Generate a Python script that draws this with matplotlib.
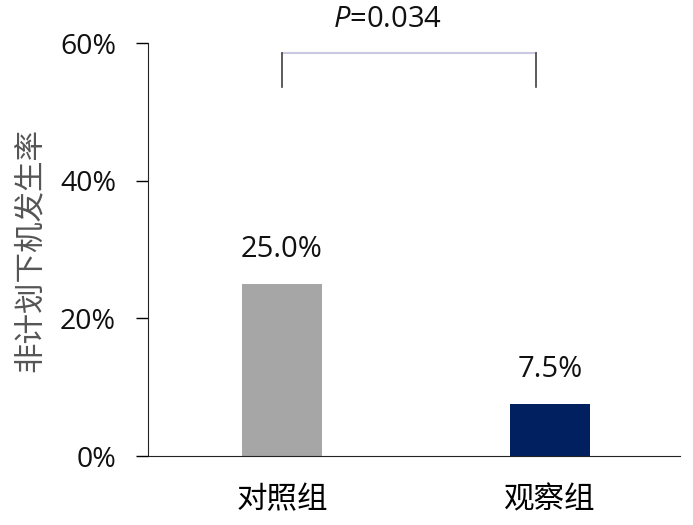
import matplotlib
matplotlib.use('Agg')
from matplotlib import pyplot as plt
from matplotlib.ticker import PercentFormatter

plt.rcParams['font.family'] = ['Open Sans', 'Noto Sans CJK SC', 'DejaVu Sans']
plt.rcParams['mathtext.fontset'] = 'custom'
plt.rcParams['mathtext.it'] = 'Open Sans:italic'
plt.rcParams['mathtext.rm'] = 'Open Sans'

groups = ['对照组', '观察组']
rates = [0.25, 0.075]
rate_labels = ['25.0%', '7.5%']
bar_colors = ['#a6a6a6', '#002060']
p_text = '=0.034'

fig = plt.figure(figsize=(6.93, 5.25), dpi=100)
ax = fig.add_axes([0.2136, 0.1314, 0.7674, 0.7866])

x = [0, 1]
ax.bar(x, rates, width=0.30, color=bar_colors)

for xi, v, lab in zip(x, rates, rate_labels):
    ax.annotate(lab, (xi, v), xytext=(0, 25), textcoords='offset points',
                ha='center', va='center', fontsize=21, color='#111111')

# significance bracket
y_top, y_bot = 0.5855, 0.536
ax.plot([0, 0.948], [y_top, y_top], color='#c8c8e0', lw=1.5, clip_on=False)
ax.plot([0, 0], [y_top, y_bot], color='#404040', lw=1.2, clip_on=False)
ax.plot([0.948, 0.948], [y_top, y_bot], color='#404040', lw=1.2, clip_on=False)
ax.text(0.395, 0.634, r'$P$' + p_text, ha='center', va='center', fontsize=21,
        color='#111111', clip_on=False)

ax.set_xlim(-0.5, 1.485)
ax.set_ylim(0, 0.6)
ax.set_yticks([0, 0.2, 0.4, 0.6])
ax.yaxis.set_major_formatter(PercentFormatter(1.0, decimals=0))
ax.set_xticks(x)
ax.set_xticklabels(groups, fontsize=22)
ax.tick_params(axis='x', length=0, pad=21)
ax.tick_params(axis='y', length=9, width=1, pad=14, labelsize=20.5, direction='out')
for lab in ax.get_yticklabels():
    lab.set_color('#111111')

ax.spines['top'].set_visible(False)
ax.spines['right'].set_visible(False)
ax.spines['left'].set_color('#222222')
ax.spines['bottom'].set_color('#222222')

ax.set_ylabel('非计划下机发生率', fontsize=22, color='#555555', labelpad=10)

plt.savefig('out.png', dpi=100)
